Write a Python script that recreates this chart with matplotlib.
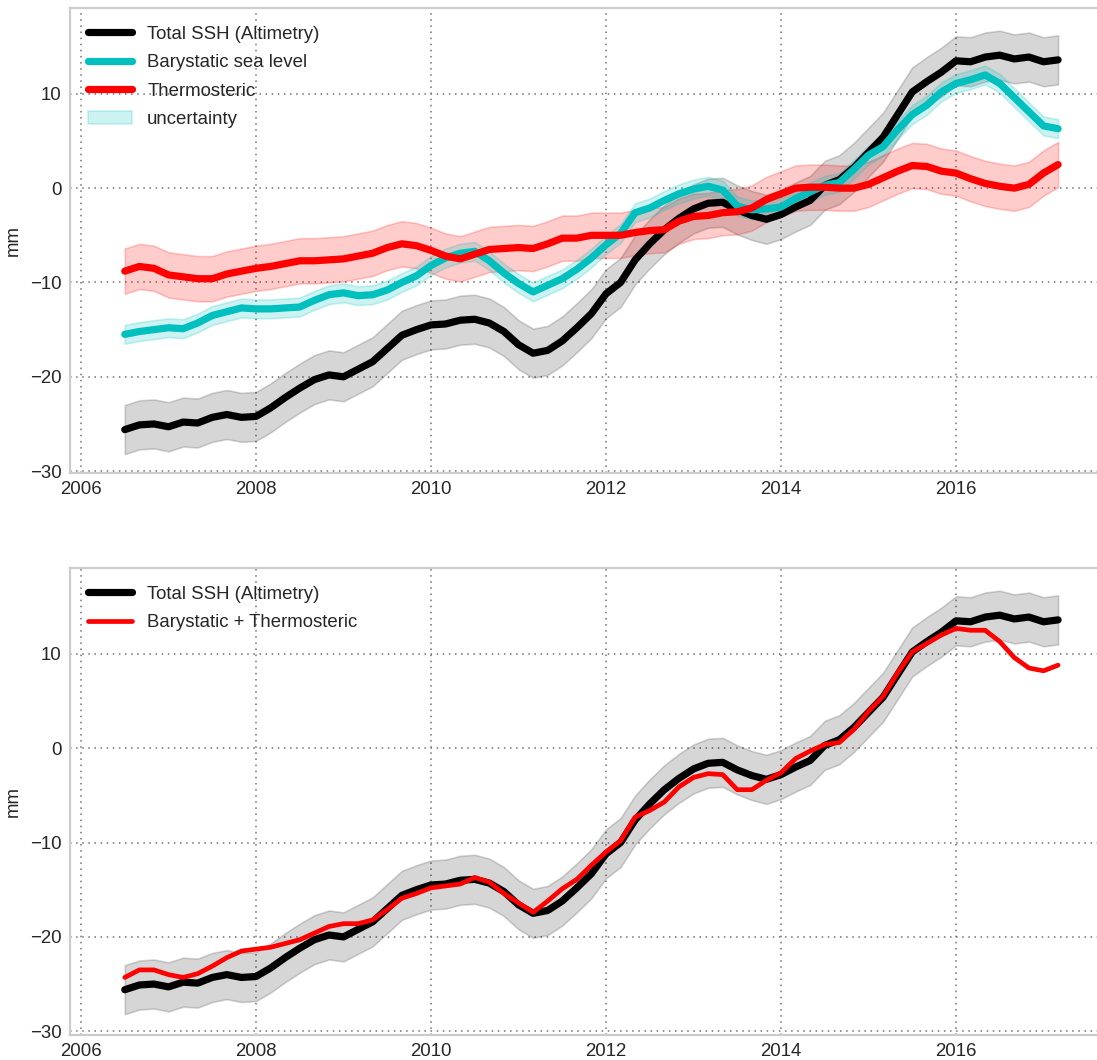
import numpy as np
import matplotlib
matplotlib.use("Agg")
import matplotlib.pyplot as plt

# ---- data ----
time = 2006.5 + np.arange(65) / 6.0

ssh_total = [
    -25.6, -25.1, -25.0, -25.3, -24.8, -24.9, -24.3, -24.0, -24.3, -24.2,
    -23.3, -22.2, -21.2, -20.3, -19.8, -20.0, -19.2, -18.4, -17.0, -15.6,
    -15.0, -14.5, -14.4, -14.0, -13.9, -14.3, -15.2, -16.6, -17.5, -17.2,
    -16.2, -14.8, -13.3, -11.2, -10.0, -7.6, -5.9, -4.4, -3.2, -2.2,
    -1.6, -1.5, -2.3, -2.9, -3.3, -2.8, -2.0, -1.3, 0.3, 0.9,
    2.2, 3.8, 5.4, 7.8, 10.2, 11.3, 12.3, 13.5, 13.4, 13.9,
    14.1, 13.7, 13.9, 13.4, 13.6,
]

barystatic = [
    -15.5, -15.2, -15.0, -14.8, -14.9, -14.3, -13.5, -13.1, -12.7, -12.8,
    -12.8, -12.7, -12.6, -11.9, -11.3, -11.1, -11.4, -11.3, -10.8, -10.0,
    -9.3, -8.2, -7.4, -6.9, -6.7, -7.7, -9.0, -10.1, -11.0, -10.3,
    -9.6, -8.6, -7.4, -6.0, -4.8, -2.6, -2.1, -1.3, -0.6, -0.1,
    0.2, -0.2, -1.9, -2.3, -2.2, -2.0, -1.1, -0.4, 0.3, 0.6,
    2.0, 3.5, 4.4, 6.2, 7.8, 8.8, 10.2, 11.1, 11.5, 12.0,
    11.1, 9.6, 8.1, 6.6, 6.3,
]

thermosteric = [
    -8.8, -8.3, -8.5, -9.2, -9.4, -9.6, -9.6, -9.1, -8.8, -8.5,
    -8.3, -8.0, -7.7, -7.7, -7.6, -7.5, -7.2, -6.9, -6.3, -5.9,
    -6.1, -6.6, -7.2, -7.5, -7.0, -6.5, -6.4, -6.3, -6.4, -5.9,
    -5.3, -5.3, -5.0, -5.0, -5.0, -4.7, -4.5, -4.4, -3.5, -3.0,
    -2.9, -2.6, -2.5, -2.1, -1.2, -0.6, 0.0, 0.1, 0.1, 0.0,
    0.0, 0.4, 1.1, 1.8, 2.4, 2.3, 1.8, 1.6, 1.0, 0.5,
    0.2, 0.0, 0.4, 1.6, 2.5,
]

# half-widths of the uncertainty bands (mm)
ssh_unc = 2.6
bary_unc = 1.0
thermo_unc = 2.4

x_ticks = [2006, 2008, 2010, 2012, 2014, 2016]
y_ticks = [-30, -20, -10, 0, 10]

ssh_total = np.array(ssh_total)
barystatic = np.array(barystatic)
thermosteric = np.array(thermosteric)
bary_plus_thermo = barystatic + thermosteric

# ---- style ----
FS = 13.4
plt.rcParams["font.family"] = ["Liberation Sans", "DejaVu Sans"]
plt.rcParams["font.size"] = FS
plt.rcParams["lines.solid_capstyle"] = "round"
plt.rcParams["axes.axisbelow"] = True

fig = plt.figure(figsize=(10.97, 10.60), dpi=100)
W, H = 1097.0, 1060.0
ax1 = fig.add_axes([70 / W, (H - 473) / H, 1040 / W, 465 / H])
ax2 = fig.add_axes([70 / W, (H - 1035) / H, 1040 / W, 467 / H])

text_color = "#262626"


def style(ax, ylim):
    ax.set_facecolor("white")
    ax.set_xlim(2005.874, 2017.76)
    ax.set_ylim(*ylim)
    ax.set_xticks(x_ticks)
    ax.set_yticks(y_ticks)
    ax.grid(True, color="#707070", linestyle=(0, (1, 3)), linewidth=1.1)
    for s in ax.spines.values():
        s.set_color("#cccccc")
        s.set_linewidth(1.6)
    ax.tick_params(length=0, pad=6, labelsize=FS, colors=text_color)
    ax.set_ylabel("mm", fontsize=FS, color=text_color, labelpad=6)


# ---- top panel ----
ax1.fill_between(time, ssh_total - ssh_unc, ssh_total + ssh_unc,
                 color="k", alpha=0.16, linewidth=1.2)
ax1.fill_between(time, thermosteric - thermo_unc, thermosteric + thermo_unc,
                 color="r", alpha=0.2, linewidth=1.2)
ax1.fill_between(time, barystatic - bary_unc, barystatic + bary_unc,
                 color="c", alpha=0.2, linewidth=1.2, label="uncertainty")
ax1.plot(time, ssh_total, color="k", lw=5.2, label="Total SSH (Altimetry)")
ax1.plot(time, barystatic, color="c", lw=5.2, label="Barystatic sea level")
ax1.plot(time, thermosteric, color="r", lw=5.2, label="Thermosteric")
style(ax1, (-30.2, 19.1))
h, l = ax1.get_legend_handles_labels()
order = [1, 2, 3, 0]
leg1 = ax1.legend([h[i] for i in order], [l[i] for i in order],
                  loc="upper left", frameon=False, handlelength=2.4,
                  fontsize=FS, borderaxespad=0.55, labelspacing=0.62)
for t in leg1.get_texts():
    t.set_color(text_color)

# ---- bottom panel ----
ax2.fill_between(time, ssh_total - ssh_unc, ssh_total + ssh_unc,
                 color="k", alpha=0.16, linewidth=1.2)
ax2.plot(time, ssh_total, color="k", lw=5.2, label="Total SSH (Altimetry)")
ax2.plot(time, bary_plus_thermo, color="r", lw=3.4,
         label="Barystatic + Thermosteric")
style(ax2, (-30.4, 19.1))
leg2 = ax2.legend(loc="upper left", frameon=False, handlelength=2.4,
                  fontsize=FS, borderaxespad=0.55, labelspacing=0.62)
for t in leg2.get_texts():
    t.set_color(text_color)

fig.savefig("out.png", dpi=100)
